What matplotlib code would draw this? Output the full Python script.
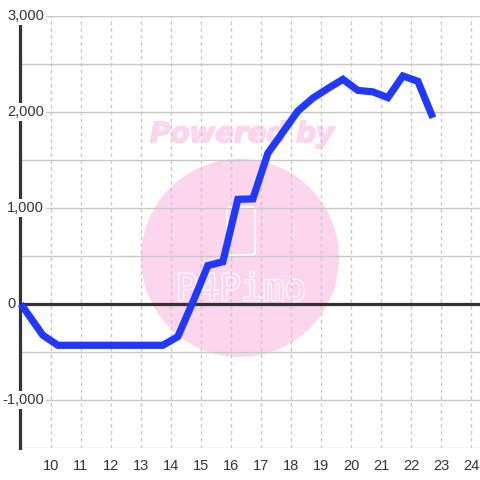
import matplotlib
matplotlib.use('Agg')
import matplotlib.pyplot as plt
import matplotlib.patheffects as pe
from matplotlib.patches import Ellipse, FancyBboxPatch
from matplotlib.transforms import blended_transform_factory

# data
hours = [9.0, 9.73, 10.23, 10.73, 11.23, 11.73, 12.23, 12.73, 13.23, 13.73,
         14.23, 14.73, 15.23, 15.73, 16.23, 16.73, 17.23, 17.73, 18.23, 18.73,
         19.23, 19.73, 20.23, 20.73, 21.23, 21.73, 22.23, 22.73]
values = [0, -325, -430, -430, -430, -430, -430, -430, -430, -430,
          -340, 20, 400, 440, 1090, 1095, 1570, 1790, 2010, 2145,
          2245, 2340, 2225, 2210, 2150, 2375, 2320, 1940]
x_ticks = list(range(10, 25))
y_grid = [-1500, -1000, -500, 0, 500, 1000, 1500, 2000, 2500, 3000]
y_labels = {3000: '3,000', 2000: '2,000', 1000: '1,000', 0: '0', -1000: '-1,000'}

plt.rcParams['font.family'] = ['Liberation Sans', 'DejaVu Sans']
txt_color = '#333333'

fig = plt.figure(figsize=(4.8, 4.8), dpi=100)
W, H = 480, 480
ax = fig.add_axes([20 / W, 1 - 448 / H, 460 / W, 432 / H])
ax.set_xlim(8.97, 24.3)
ax.set_ylim(-1500, 3000)

# grid
ax.set_axisbelow(True)
ax.set_yticks(y_grid)
ax.set_xticks(x_ticks)
ax.yaxis.grid(True, color='#c8c8c8', lw=1, ls='-')
ax.xaxis.grid(True, color='#c8c8c8', lw=1, ls=(0, (2.5, 2.5)))
ax.tick_params(axis='both', length=0)
ax.tick_params(axis='x', labelsize=10.5, labelcolor=txt_color, pad=8)
ax.tick_params(axis='y', labelleft=False)

for s in ['top', 'right', 'bottom']:
    ax.spines[s].set_visible(False)
ax.spines['left'].set_color('#333333')
ax.spines['left'].set_linewidth(2.3)

# watermark
ax.add_patch(Ellipse(((240 - 20) / 460, (448 - 258) / 432), 198 / 460, 198 / 432,
                     transform=ax.transAxes, facecolor='#fcd6ec', edgecolor='none', zorder=0.2))
ax.add_patch(FancyBboxPatch(((227 - 20) / 460, (448 - 255) / 432), 28 / 460, 48 / 432,
                            boxstyle='round,pad=0,rounding_size=0.008',
                            transform=ax.transAxes, facecolor='none', edgecolor='white',
                            lw=1.3, zorder=0.3))
ax.text((241 - 20) / 460, (448 - 290) / 432, 'P4Pimo', transform=ax.transAxes,
        ha='center', va='center', fontsize=26, color='#fcd6ec', family='DejaVu Sans Mono',
        zorder=0.3, path_effects=[pe.Stroke(linewidth=1.6, foreground='white'), pe.Normal()])
ax.text((242 - 20) / 460, (448 - 134) / 432, 'Powered by', transform=ax.transAxes,
        ha='center', va='center', fontsize=20, color='#fcd6ec', fontweight='heavy',
        fontstyle='italic', family='DejaVu Sans', zorder=0.3,
        path_effects=[pe.Stroke(linewidth=1.2, foreground='#fcd6ec'), pe.Normal()])

# zero line
ax.axhline(0, color='#333333', lw=2.3, zorder=2)

# y labels with white background
tr = blended_transform_factory(ax.transAxes, ax.transData)
for v, lab in y_labels.items():
    xpx = 2 if v < 0 else 7
    ax.text((xpx - 20) / 460, v, lab, transform=tr, ha='left', va='center',
            fontsize=10.5, color=txt_color, zorder=4, clip_on=False,
            bbox=dict(facecolor='white', edgecolor='none', pad=1.5))

ax.plot(hours, values, color='#2138ff', lw=5.2, solid_joinstyle='miter',
        solid_capstyle='butt', zorder=5, clip_on=False)

fig.savefig('out.png', dpi=100)
